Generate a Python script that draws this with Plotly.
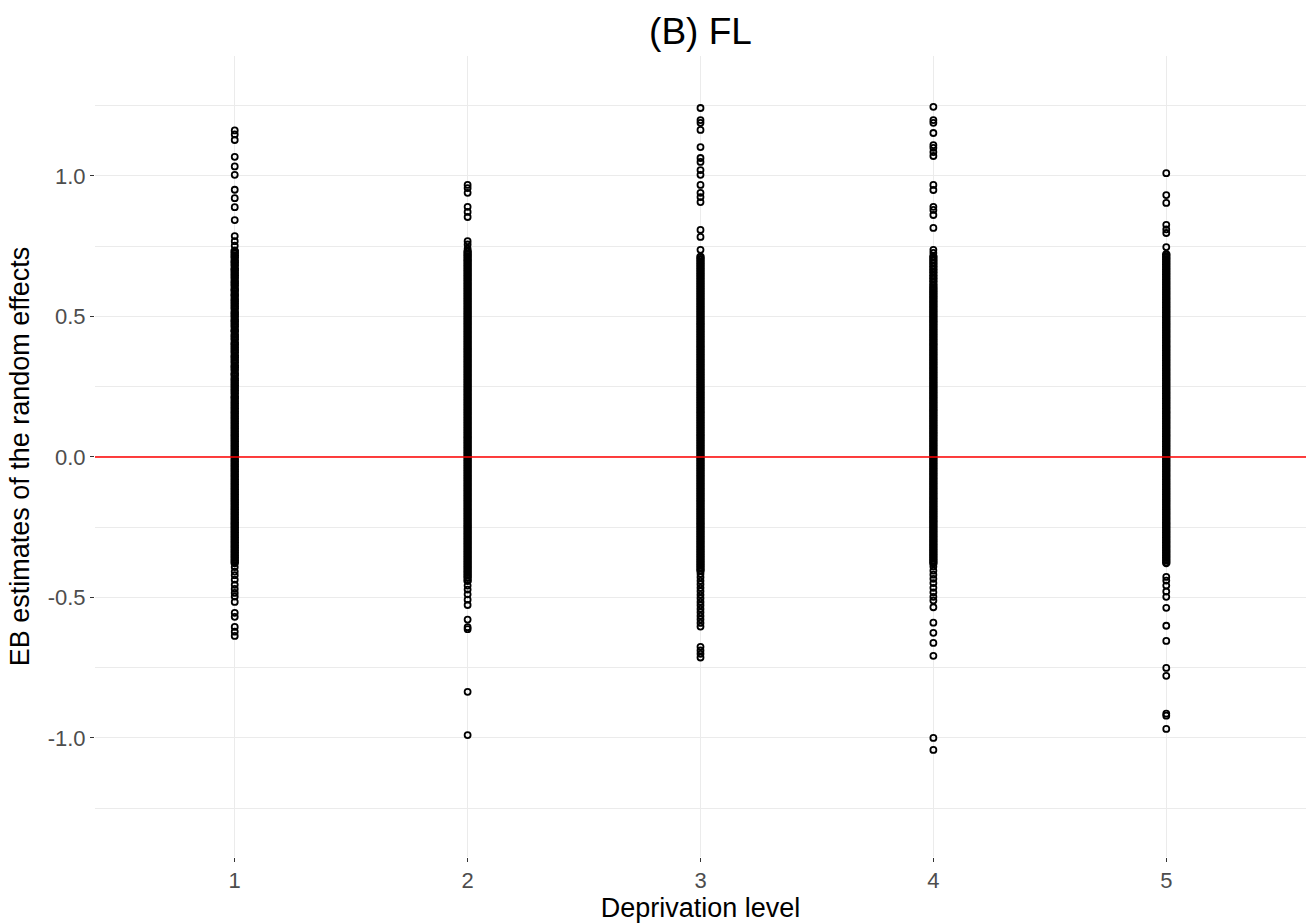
import plotly.graph_objects as go

# Deprivation levels on the x axis
levels = [1, 2, 3, 4, 5]

# EB estimates of the random effects per deprivation level:
# the sparse tails above/below the bulk, and the densely packed bulk
tail_level1 = [
    1.162, 1.148, 1.128, 1.068, 1.034, 1.004, 0.951, 0.921, 0.889, 0.843,
    0.786, 0.768, 0.752,
    -0.392, -0.408, -0.421, -0.437, -0.455, -0.470, -0.484, -0.497, -0.516,
    -0.555, -0.569, -0.605, -0.622, -0.637,
]
bulk_level1 = [
    0.734, 0.726, 0.717, 0.709, 0.698, 0.691, 0.682, 0.671, 0.664, 0.655,
    0.646, 0.637, 0.626, 0.618, 0.609, 0.598, 0.591, 0.580, 0.573, 0.562,
    0.554, 0.545, 0.536, 0.527, 0.516, 0.508, 0.499, 0.488, 0.481, 0.472,
    0.463, 0.452, 0.446, 0.435, 0.427, 0.418, 0.406, 0.399, 0.390, 0.381,
    0.372, 0.361, 0.354, 0.345, 0.336, 0.325, 0.318, 0.309, 0.298, 0.291,
    0.280, 0.272, 0.263, 0.254, 0.245, 0.236, 0.227, 0.216, 0.209, 0.199,
    0.190, 0.181, 0.172, 0.163, 0.154, 0.145, 0.136, 0.127, 0.118, 0.109,
    0.100, 0.091, 0.082, 0.073, 0.064, 0.055, 0.046, 0.037, 0.028, 0.019,
    0.010, 0.002, -0.008, -0.017, -0.026, -0.035, -0.044, -0.053, -0.062,
    -0.071, -0.080, -0.089, -0.098, -0.107, -0.116, -0.125, -0.134, -0.143,
    -0.152, -0.161, -0.170, -0.179, -0.188, -0.197, -0.206, -0.215, -0.224,
    -0.233, -0.242, -0.251, -0.260, -0.269, -0.278, -0.287, -0.296, -0.305,
    -0.314, -0.323, -0.332, -0.341, -0.350, -0.359, -0.368, -0.377,
]
tail_level2 = [
    0.968, 0.957, 0.940, 0.890, 0.872, 0.854, 0.768, 0.756, 0.741,
    -0.458, -0.472, -0.489, -0.508, -0.527, -0.579, -0.606, -0.613,
    -0.836, -0.990,
]
bulk_level2 = [
    0.731, 0.722, 0.713, 0.704, 0.695, 0.686, 0.677, 0.668, 0.659, 0.650,
    0.641, 0.632, 0.623, 0.614, 0.605, 0.596, 0.587, 0.578, 0.569, 0.560,
    0.551, 0.542, 0.533, 0.524, 0.515, 0.506, 0.497, 0.488, 0.479, 0.470,
    0.461, 0.452, 0.443, 0.434, 0.425, 0.416, 0.407, 0.398, 0.389, 0.380,
    0.371, 0.362, 0.353, 0.344, 0.335, 0.326, 0.317, 0.308, 0.299, 0.290,
    0.281, 0.272, 0.263, 0.254, 0.245, 0.236, 0.227, 0.218, 0.209, 0.200,
    0.191, 0.182, 0.173, 0.164, 0.155, 0.146, 0.137, 0.128, 0.119, 0.110,
    0.101, 0.092, 0.083, 0.074, 0.065, 0.056, 0.047, 0.038, 0.029, 0.020,
    0.011, 0.002, -0.007, -0.016, -0.025, -0.034, -0.043, -0.052, -0.061,
    -0.070, -0.079, -0.088, -0.097, -0.106, -0.115, -0.124, -0.133, -0.142,
    -0.151, -0.160, -0.169, -0.178, -0.187, -0.196, -0.205, -0.214, -0.223,
    -0.232, -0.241, -0.250, -0.259, -0.268, -0.277, -0.286, -0.295, -0.304,
    -0.313, -0.322, -0.331, -0.340, -0.349, -0.358, -0.367, -0.376, -0.385,
    -0.394, -0.403, -0.412, -0.421, -0.430, -0.441,
]
tail_level3 = [
    1.242, 1.199, 1.189, 1.164, 1.103, 1.064, 1.050, 1.021, 1.004, 0.968,
    0.940, 0.925, 0.907, 0.808, 0.783, 0.737,
    -0.416, -0.428, -0.441, -0.453, -0.466, -0.478, -0.491, -0.503, -0.516,
    -0.528, -0.541, -0.553, -0.566, -0.578, -0.591, -0.604,
    -0.676, -0.689, -0.701, -0.714,
]
bulk_level3 = [
    0.712, 0.703, 0.694, 0.685, 0.676, 0.667, 0.658, 0.649, 0.640, 0.631,
    0.622, 0.613, 0.604, 0.595, 0.586, 0.577, 0.568, 0.559, 0.550, 0.541,
    0.532, 0.523, 0.514, 0.505, 0.496, 0.487, 0.478, 0.469, 0.460, 0.451,
    0.442, 0.433, 0.424, 0.415, 0.406, 0.397, 0.388, 0.379, 0.370, 0.361,
    0.352, 0.343, 0.334, 0.325, 0.316, 0.307, 0.298, 0.289, 0.280, 0.271,
    0.262, 0.253, 0.244, 0.235, 0.226, 0.217, 0.208, 0.199, 0.190, 0.181,
    0.172, 0.163, 0.154, 0.145, 0.136, 0.127, 0.118, 0.109, 0.100, 0.091,
    0.082, 0.073, 0.064, 0.055, 0.046, 0.037, 0.028, 0.019, 0.010, 0.001,
    -0.008, -0.017, -0.026, -0.035, -0.044, -0.053, -0.062, -0.071, -0.080,
    -0.089, -0.098, -0.107, -0.116, -0.125, -0.134, -0.143, -0.152, -0.161,
    -0.170, -0.179, -0.188, -0.197, -0.206, -0.215, -0.224, -0.233, -0.242,
    -0.251, -0.260, -0.269, -0.278, -0.287, -0.296, -0.305, -0.314, -0.323,
    -0.332, -0.341, -0.350, -0.359, -0.368, -0.377, -0.386, -0.395, -0.404,
]
tail_level4 = [
    1.246, 1.199, 1.189, 1.153, 1.110, 1.100, 1.085, 1.071, 0.968, 0.950,
    0.890, 0.879, 0.861, 0.815, 0.737, 0.726,
    -0.390, -0.405, -0.419, -0.434, -0.449, -0.466, -0.482, -0.498, -0.511,
    -0.535, -0.590, -0.626, -0.662, -0.708, -1.000, -1.043,
]
bulk_level4 = [
    0.712, 0.701, 0.690, 0.679, 0.668, 0.657, 0.646, 0.635, 0.624, 0.613,
    0.603, 0.594, 0.585, 0.576, 0.567, 0.558, 0.549, 0.540, 0.531, 0.522,
    0.513, 0.504, 0.495, 0.486, 0.477, 0.468, 0.459, 0.450, 0.441, 0.432,
    0.423, 0.414, 0.405, 0.396, 0.387, 0.378, 0.369, 0.360, 0.351, 0.342,
    0.333, 0.324, 0.315, 0.306, 0.297, 0.288, 0.279, 0.270, 0.261, 0.252,
    0.243, 0.234, 0.225, 0.216, 0.207, 0.198, 0.189, 0.180, 0.171, 0.162,
    0.153, 0.144, 0.135, 0.126, 0.117, 0.108, 0.099, 0.090, 0.081, 0.072,
    0.063, 0.054, 0.045, 0.036, 0.027, 0.018, 0.009, 0.000, -0.009, -0.018,
    -0.027, -0.036, -0.045, -0.054, -0.063, -0.072, -0.081, -0.090, -0.099,
    -0.108, -0.117, -0.126, -0.135, -0.144, -0.153, -0.162, -0.171, -0.180,
    -0.189, -0.198, -0.207, -0.216, -0.225, -0.234, -0.243, -0.252, -0.261,
    -0.270, -0.279, -0.288, -0.297, -0.306, -0.315, -0.324, -0.333, -0.342,
    -0.351, -0.360, -0.369, -0.378,
]
tail_level5 = [
    1.010, 0.932, 0.904, 0.826, 0.810, 0.797, 0.747,
    -0.427, -0.440, -0.458, -0.479, -0.498, -0.537, -0.601, -0.655,
    -0.751, -0.779, -0.914, -0.921, -0.968,
]
bulk_level5 = [
    0.721, 0.712, 0.703, 0.694, 0.685, 0.676, 0.667, 0.658, 0.649, 0.640,
    0.631, 0.622, 0.613, 0.604, 0.595, 0.586, 0.577, 0.568, 0.559, 0.550,
    0.541, 0.532, 0.523, 0.514, 0.505, 0.496, 0.487, 0.478, 0.469, 0.460,
    0.451, 0.442, 0.433, 0.424, 0.415, 0.406, 0.397, 0.388, 0.379, 0.370,
    0.361, 0.352, 0.343, 0.334, 0.325, 0.316, 0.307, 0.298, 0.289, 0.280,
    0.271, 0.262, 0.253, 0.244, 0.235, 0.226, 0.217, 0.208, 0.199, 0.190,
    0.181, 0.172, 0.163, 0.154, 0.145, 0.136, 0.127, 0.118, 0.109, 0.100,
    0.091, 0.082, 0.073, 0.064, 0.055, 0.046, 0.037, 0.028, 0.019, 0.010,
    0.001, -0.008, -0.017, -0.026, -0.035, -0.044, -0.053, -0.062, -0.071,
    -0.080, -0.089, -0.098, -0.107, -0.116, -0.125, -0.134, -0.143, -0.152,
    -0.161, -0.170, -0.179, -0.188, -0.197, -0.206, -0.215, -0.224, -0.233,
    -0.242, -0.251, -0.260, -0.269, -0.278, -0.287, -0.296, -0.305, -0.314,
    -0.323, -0.332, -0.341, -0.350, -0.359, -0.368, -0.377,
]
tails = [tail_level1, tail_level2, tail_level3, tail_level4, tail_level5]
bulks = [bulk_level1, bulk_level2, bulk_level3, bulk_level4, bulk_level5]

y_tickvals = [-1.0, -0.5, 0.0, 0.5, 1.0]
y_ticktext = ["-1.0", "-0.5", "0.0", "0.5", "1.0"]

fig = go.Figure()
for lvl, tail, bulk in zip(levels, tails, bulks):
    # heavily overplotted bulk: rings overlap into a solid column
    fig.add_trace(go.Scatter(
        x=[lvl] * len(bulk), y=bulk, mode="markers",
        marker=dict(symbol="circle-open", size=6, color="black",
                    line=dict(width=2.6, color="black")),
        showlegend=False, hoverinfo="y",
    ))
    fig.add_trace(go.Scatter(
        x=[lvl] * len(tail), y=tail, mode="markers",
        marker=dict(symbol="circle-open", size=6, color="black",
                    line=dict(width=1.8, color="black")),
        showlegend=False, hoverinfo="y",
    ))

# Reference line at zero
fig.add_shape(type="line", xref="paper", x0=0, x1=1, yref="y", y0=0, y1=0,
              line=dict(color="#FF0000", width=1.5), layer="above")

grid = "#EBEBEB"
fig.update_layout(
    width=1306, height=924,
    margin=dict(l=95, r=0, t=56, b=67),
    plot_bgcolor="white", paper_bgcolor="white",
    font=dict(family="Liberation Sans, Arial, sans-serif", color="black"),
    title=dict(text="(B) FL", x=0.5, xref="paper", xanchor="center",
               y=0.966, yref="container", yanchor="middle",
               font=dict(size=37, color="black")),
    xaxis=dict(
        range=[0.4, 5.6], tickvals=levels, ticktext=[str(v) for v in levels],
        showgrid=True, gridcolor=grid, gridwidth=1.1, zeroline=False,
        showline=False, ticks="outside", ticklen=4, tickcolor="#333333",
        tickfont=dict(size=22, color="#4D4D4D"),
        title=dict(text="Deprivation level", font=dict(size=27, color="black"),
                   standoff=4),
    ),
    yaxis=dict(
        range=[-1.424, 1.427], tickvals=y_tickvals, ticktext=y_ticktext,
        showgrid=True, gridcolor=grid, gridwidth=1.1, zeroline=False,
        showline=False, ticks="outside", ticklen=4, tickcolor="#333333",
        tickfont=dict(size=22, color="#4D4D4D"),
        minor=dict(tickvals=[-1.25, -0.75, -0.25, 0.25, 0.75, 1.25],
                   showgrid=True, gridcolor=grid, gridwidth=0.8, ticks=""),
        title=dict(text="EB estimates of the random effects",
                   font=dict(size=27, color="black"), standoff=10),
    ),
)

fig.write_html("out.html")
